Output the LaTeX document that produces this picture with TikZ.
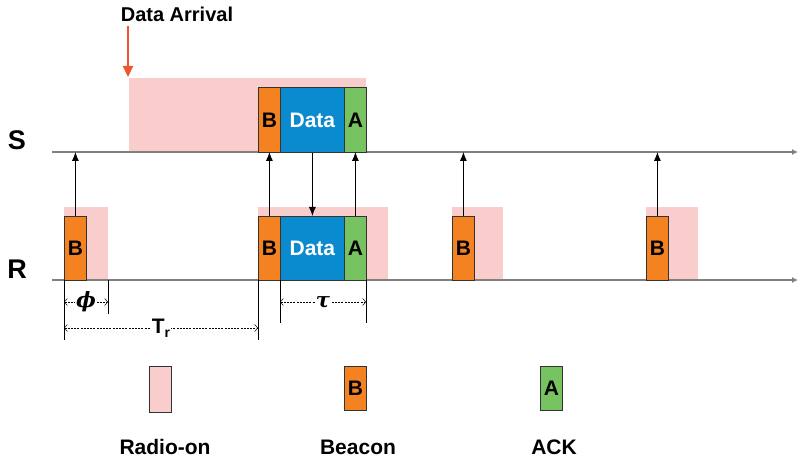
\documentclass[tikz,border=0pt]{standalone}
\usepackage{fontspec}
\setmainfont{Liberation Sans}
\newfontfamily\grk{DejaVu Serif}
\usetikzlibrary{arrows.meta}
\definecolor{pinkon}{HTML}{F9CDCC}
\definecolor{bor}{HTML}{F58220}
\definecolor{dblue}{HTML}{0A8BD0}
\definecolor{ackg}{HTML}{77C361}
\definecolor{axisg}{HTML}{808080}
\definecolor{arrred}{HTML}{F0552B}
\definecolor{edge}{HTML}{333333}
\begin{document}
\begin{tikzpicture}[x=1pt,y=-1pt,
  every node/.style={font=\fontsize{21}{24}\selectfont\bfseries},
  radio/.style={fill=pinkon, draw=none, inner sep=0, anchor=north west},
  pkt/.style={draw=edge, line width=0.8pt, inner sep=0, anchor=north west, minimum width=22pt},
  beacon/.style={pkt, fill=bor},
  ackbox/.style={pkt, fill=ackg},
  databox/.style={pkt, fill=dblue, text=white, minimum width=64pt},
  axis/.style={draw=axisg, line width=1.2pt, -{Latex[length=6pt,width=6pt]}, shorten >=0pt},
  msg/.style={draw=black, line width=0.8pt, -{Latex[length=9pt,width=7pt]}},
  tick/.style={draw=black, line width=0.6pt},
  dim/.style={draw=black, line width=0.5pt, dashed, dash pattern=on 2pt off 1.2pt, {Straight Barb[length=3pt,width=7pt]}-{Straight Barb[length=3pt,width=7pt]}},
  dimlab/.style={fill=white, inner sep=1pt, font=\fontsize{21}{24}\selectfont\bfseries},
  greeklab/.style={fill=white, inner sep=1pt, font=\grk\fontsize{21}{24}\selectfont\bfseries\itshape},
  legtext/.style={font=\fontsize{21}{24}\selectfont\bfseries}
]
\useasboundingbox (0,0) rectangle (798,462);

% radio-on regions
\node[radio, minimum width=237pt, minimum height=74pt] (son) at (129,78) {};
\node[radio, minimum width=44pt, minimum height=73pt] (ron1) at (64,207) {};
\node[radio, minimum width=130pt, minimum height=73pt] (ron2) at (258,207) {};
\node[radio, minimum width=51pt, minimum height=73pt] (ron3) at (452,207) {};
\node[radio, minimum width=52pt, minimum height=73pt] (ron4) at (646,207) {};

% axes
\coordinate (s0) at (52,152); \coordinate (s1) at (798,152);
\coordinate (r0) at (52,280); \coordinate (r1) at (798,280);
\draw[axis] (s0) -- (s1);
\draw[axis] (r0) -- (r1);
\node[font=\fontsize{27}{30}\selectfont\bfseries] (slab) at (17,140) {S};
\node[font=\fontsize{27}{30}\selectfont\bfseries] (rlab) at (17,269) {R};

% S packets
\node[beacon, minimum height=65pt] (sb) at (258,87) {B};
\node[databox, minimum height=65pt] (sd) at (280,87) {Data};
\node[ackbox, minimum height=65pt] (sa) at (344,87) {A};

% R packets
\node[beacon, minimum height=64pt] (rb1) at (64,216) {B};
\node[beacon, minimum height=64pt] (rb2) at (258,216) {B};
\node[databox, minimum height=64pt] (rd) at (280,216) {Data};
\node[ackbox, minimum height=64pt] (ra) at (344,216) {A};
\node[beacon, minimum height=64pt] (rb3) at (452,216) {B};
\node[beacon, minimum height=64pt] (rb4) at (646,216) {B};

% messages
\draw[msg] (rb1.north) -- (rb1.north |- s0);
\draw[msg] (rb2.north) -- (rb2.north |- s0);
\draw[msg] (ra.north) -- (ra.north |- s0);
\draw[msg] (rb3.north) -- (rb3.north |- s0);
\draw[msg] (rb4.north) -- (rb4.north |- s0);
\draw[msg] (sd.south) -- (rd.north);

% data arrival
\node[font=\fontsize{20}{22}\selectfont\bfseries] (darr) at (177,14) {Data Arrival};
\coordinate (dtip) at (128,77);
\draw[draw=arrred, line width=2pt, -{Triangle[length=11pt,width=10pt]}] (128,26) -- (dtip);

% dimension ticks
\coordinate (p0) at (64,280); \coordinate (p0e) at (64,340);
\coordinate (p1) at (108,280); \coordinate (p1e) at (108,314);
\coordinate (p2) at (258,280); \coordinate (p2e) at (258,340);
\coordinate (p3) at (280,280); \coordinate (p3e) at (280,323);
\coordinate (p4) at (366,280); \coordinate (p4e) at (366,323);
\draw[tick] (p0) -- (p0e);
\draw[tick] (p1) -- (p1e);
\draw[tick] (p2) -- (p2e);
\draw[tick] (p3) -- (p3e);
\draw[tick] (p4) -- (p4e);
\coordinate (phiL) at (64,302); \coordinate (phiR) at (108,302);
\coordinate (tauL) at (280,302); \coordinate (tauR) at (366,302);
\coordinate (trL) at (64,328); \coordinate (trR) at (258,328);
\draw[dim] (phiL) -- (phiR) node[greeklab, midway] (phil) {ϕ};
\draw[dim] (tauL) -- (tauR) node[greeklab, midway] (taul) {τ};
\draw[dim] (trL) -- (trR) node[dimlab, midway] (trl) {T\raisebox{-0.35ex}{\fontsize{14}{15}\selectfont r}};

% legend
\node[radio, draw=edge, line width=0.8pt, minimum width=22pt, minimum height=46pt] (lr) at (149,366) {};
\node[beacon, minimum height=44pt] (lb) at (344,366) {B};
\node[ackbox, minimum height=44pt] (la) at (540,366) {A};
\node[legtext] (lrt) at (165,447) {Radio-on};
\node[legtext] (lbt) at (358,447) {Beacon};
\node[legtext] (lat) at (554,447) {ACK};
\end{tikzpicture}
\end{document}
